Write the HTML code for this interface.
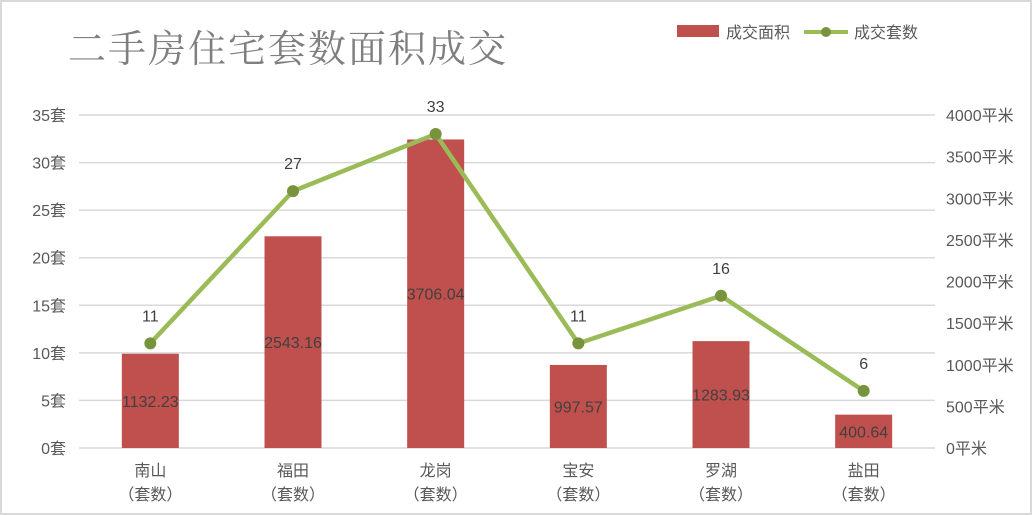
<!DOCTYPE html>
<html><head><meta charset="utf-8"><style>
html,body{margin:0;padding:0;background:#fff;}
svg{display:block;font-family:"Liberation Sans","Noto Sans CJK SC",sans-serif;}
</style></head><body>
<svg id="chart" width="1032" height="515" viewBox="0 0 1032 515">
<rect x="1" y="1" width="1030" height="513" fill="#fff" stroke="#d9d9d9" stroke-width="2"/>
<text x="68" y="62" font-size="38" fill="#7f7f7f" font-family="'Noto Serif CJK SC','Liberation Serif',serif" letter-spacing="2">二手房住宅套数面积成交</text>
<g>
<rect x="677" y="25" width="42" height="12" fill="#c0504d"/>
<text x="726" y="38" font-size="16" fill="#595959">成交面积</text>
<line x1="804" y1="32" x2="848" y2="32" stroke="#9bbb59" stroke-width="4"/>
<circle cx="826" cy="32" r="5" fill="#77933c"/>
<text x="854" y="38" font-size="16" fill="#595959">成交套数</text>
</g>
<g id="grid"></g><g id="bars"></g><g id="line"></g><g id="labels"></g>
</svg>
<script>
const categories=["南山","福田","龙岗","宝安","罗湖","盐田"];
const areaValues=[1132.23,2543.16,3706.04,997.57,1283.93,400.64];
const countValues=[11,27,33,11,16,6];
const leftTicks=[0,5,10,15,20,25,30,35];
const rightTicks=[0,500,1000,1500,2000,2500,3000,3500,4000];
const NS="http://www.w3.org/2000/svg";
const svg=document.getElementById('chart');
const x0=79,x1=935,y0=448,yTop=115;
const band=(x1-x0)/categories.length;
const xC=i=>x0+band*(i+0.5);
const yL=v=>y0-(v/35)*(y0-yTop);
const yR=v=>y0-(v/4000)*(y0-yTop);
function mk(tag,attrs,parent,txt){const e=document.createElementNS(NS,tag);for(const k in attrs)e.setAttribute(k,attrs[k]);if(txt!==undefined)e.textContent=txt;document.getElementById(parent).appendChild(e);return e;}
leftTicks.forEach(t=>{
  const g=mk('line',{x1:x0,x2:x1,y1:yL(t),y2:yL(t),stroke:'#d9d9d9','stroke-width':1.5},'grid');
  
  
  const l=mk('text',{x:66,y:yL(t)+6,'font-size':16,fill:'#595959','text-anchor':'end'},'grid',t+'套');
  
  
});
rightTicks.forEach(t=>{
  const l=mk('text',{x:946,y:yR(t)+6,'font-size':16,fill:'#595959'},'grid',t+'平米');
  
  
});
categories.forEach((c,i)=>{
  const a=mk('text',{x:xC(i),y:476,'font-size':16,fill:'#595959','text-anchor':'middle'},'grid',c);
  
  
  const b=mk('text',{x:xC(i),y:500,'font-size':16,fill:'#595959','text-anchor':'middle'},'grid','（套数）');
  
  
});
const bw=57;
areaValues.forEach((v,i)=>{
  const r=mk('rect',{x:xC(i)-bw/2,y:yR(v),width:bw,height:y0-yR(v),fill:'#c0504d'},'bars');
  
  
  const t=mk('text',{x:xC(i),y:(yR(v)+y0)/2+6,'font-size':16,fill:'#404040','text-anchor':'middle'},'labels',v.toFixed(2));
  
  
});
const pts=countValues.map((v,i)=>xC(i)+','+yL(v)).join(' ');
const pl=mk('polyline',{points:pts,fill:'none',stroke:'#9bbb59','stroke-width':4.5,'stroke-linejoin':'round'},'line');


countValues.forEach((v,i)=>{
  const c=mk('circle',{cx:xC(i),cy:yL(v),r:6,fill:'#77933c'},'line');
  
  
  const t=mk('text',{x:xC(i),y:yL(v)-22,'font-size':16,fill:'#404040','text-anchor':'middle'},'labels',String(v));
  
  
});
</script>
</body></html>
